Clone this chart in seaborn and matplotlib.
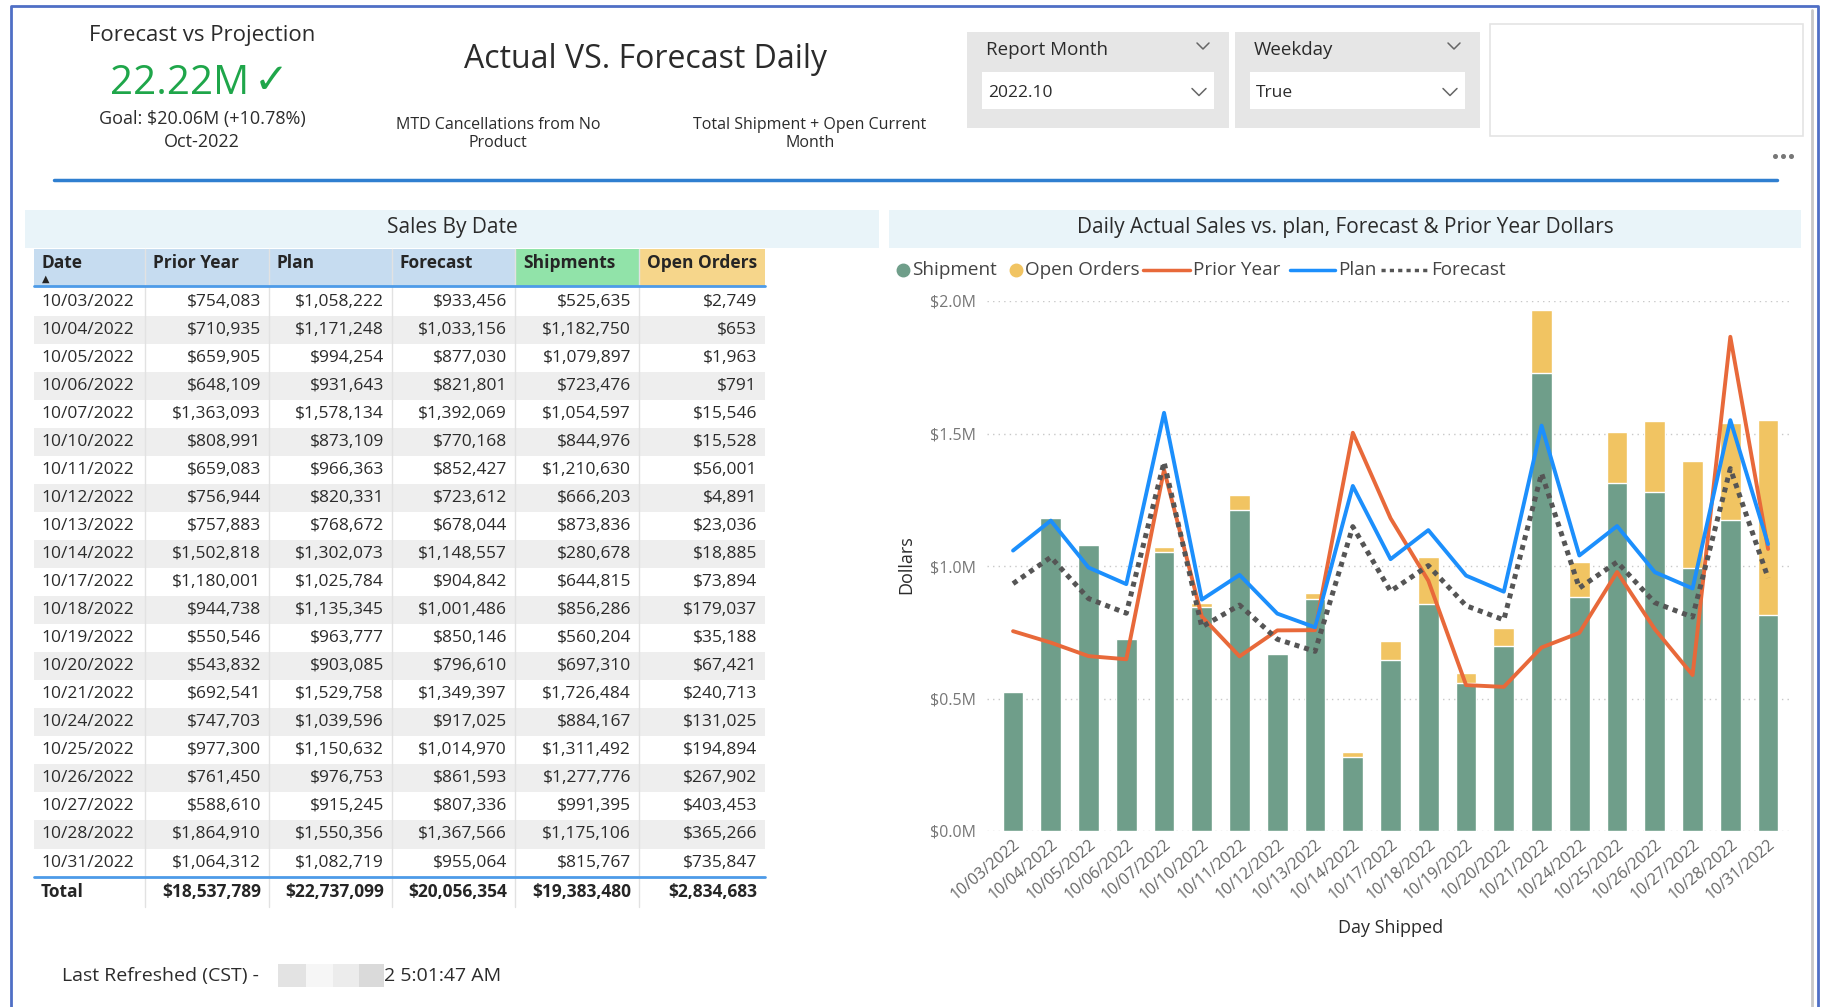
import numpy as np
import matplotlib
matplotlib.use("Agg")
import matplotlib.pyplot as plt
from matplotlib.patches import Rectangle
from matplotlib.transforms import ScaledTranslation
import seaborn as sns

dates = ['10/03/2022', '10/04/2022', '10/05/2022', '10/06/2022', '10/07/2022',
         '10/10/2022', '10/11/2022', '10/12/2022', '10/13/2022', '10/14/2022',
         '10/17/2022', '10/18/2022', '10/19/2022', '10/20/2022', '10/21/2022',
         '10/24/2022', '10/25/2022', '10/26/2022', '10/27/2022', '10/28/2022',
         '10/31/2022']
prior_year = [754083, 710935, 659905, 648109, 1363093, 808991, 659083, 756944,
              757883, 1502818, 1180001, 944738, 550546, 543832, 692541, 747703,
              977300, 761450, 588610, 1864910, 1064312]
plan = [1058222, 1171248, 994254, 931643, 1578134, 873109, 966363, 820331,
        768672, 1302073, 1025784, 1135345, 963777, 903085, 1529758, 1039596,
        1150632, 976753, 915245, 1550356, 1082719]
forecast = [933456, 1033156, 877030, 821801, 1392069, 770168, 852427, 723612,
            678044, 1148557, 904842, 1001486, 850146, 796610, 1349397, 917025,
            1014970, 861593, 807336, 1367566, 955064]
shipments = [525635, 1182750, 1079897, 723476, 1054597, 844976, 1210630, 666203,
             873836, 280678, 644815, 856286, 560204, 697310, 1726484, 884167,
             1311492, 1277776, 991395, 1175106, 815767]
open_orders = [2749, 653, 1963, 791, 15546, 15528, 56001, 4891, 23036, 18885,
               73894, 179037, 35188, 67421, 240713, 131025, 194894, 267902,
               403453, 365266, 735847]
totals = [18537789, 22737099, 20056354, 19383480, 2834683]
table_cols = ['Date', 'Prior Year', 'Plan', 'Forecast', 'Shipments', 'Open Orders']
y_ticks = [0, 500000, 1000000, 1500000, 2000000]

GREEN = '#6f9e8a'
YELLOW = '#f1c462'
ORANGE = '#e8693a'
BLUE = '#1c8ffc'
GRAY = '#555555'

sns.set_theme(style='white')
plt.rcParams['font.family'] = ['Open Sans', 'DejaVu Sans']

W, H = 1825, 1007
fig = plt.figure(figsize=(W / 100, H / 100), dpi=100)
fig.patch.set_facecolor('white')

# background axes in pixel coordinates for the dashboard furniture
bg = fig.add_axes([0, 0, 1, 1])
bg.set_xlim(0, W)
bg.set_ylim(H, 0)
bg.axis('off')

TXT = '#2b2b2b'

# outer frame
bg.plot([11, 11, 1818, 1818], [H, 6, 6, H], color='#4f6fc5', lw=2)
bg.plot([1812, 1812], [10, H], color='#c8c8c8', lw=2)

# header texts
bg.text(202, 35, 'Forecast vs Projection', ha='center', va='center', fontsize=16, color=TXT)
bg.text(180, 84, '22.22M', ha='center', va='center', fontsize=29, color='#1fa64a')
bg.text(271, 81, '\u2713', ha='center', va='center', fontsize=30, color='#1fa64a',
        family=['DejaVu Sans'], fontweight='bold')
bg.text(202, 119, 'Goal: $20.06M (+10.78%)', ha='center', va='center', fontsize=13, color=TXT)
bg.text(202, 142, 'Oct-2022', ha='center', va='center', fontsize=13, color=TXT)
bg.text(646, 60, 'Actual VS. Forecast Daily', ha='center', va='center', fontsize=23, color=TXT)
bg.text(498, 134, 'MTD Cancellations from No\nProduct', ha='center', va='center',
        fontsize=11.5, color=TXT, linespacing=1.2)
bg.text(810, 134, 'Total Shipment + Open Current\nMonth', ha='center', va='center',
        fontsize=11.5, color=TXT, linespacing=1.2)


def chevron(x, y, s=7):
    bg.plot([x - s, x, x + s], [y - s / 2, y + s / 2, y - s / 2], color='#666666', lw=1.1)


# slicers
for (x0, x1, title, val) in [(967, 1229, 'Report Month', '2022.10'), (1235, 1480, 'Weekday', 'True')]:
    bg.add_patch(Rectangle((x0, 32), x1 - x0, 96, color='#e6e6e6', lw=0))
    bg.add_patch(Rectangle((x0 + 15, 72), x1 - x0 - 30, 37, color='white', lw=0))
    bg.text(x0 + 19, 50, title, ha='left', va='center', fontsize=13.5, color=TXT)
    bg.text(x0 + 21, 93, val, ha='left', va='center', fontsize=12.5, color=TXT)
    chevron(x1 - 26, 46, 6)
    chevron(x1 - 30, 92, 7)

bg.add_patch(Rectangle((1490, 24), 313, 112, fill=False, edgecolor='#e4e4e4', lw=1.2))
bg.plot([1775, 1783, 1791], [156, 156, 156], ls='', marker='o', ms=2.6, color='#777777')
bg.plot([54, 1777], [180, 180], color='#2f7fd0', lw=2.5)

# ---- table: Sales By Date ----
bg.add_patch(Rectangle((25, 210), 854, 38, color='#e9f4f9', lw=0))
bg.text(452, 228, 'Sales By Date', ha='center', va='center', fontsize=15, color=TXT)

col_x = [34, 145, 269, 392, 515, 639, 765]
hdr_colors = ['#c6dcf0', '#c6dcf0', '#c6dcf0', '#c6dcf0', '#91e3a9', '#f6d68b']
for j, name in enumerate(table_cols):
    bg.add_patch(Rectangle((col_x[j], 249), col_x[j + 1] - col_x[j], 37, color=hdr_colors[j], lw=0))
    bg.text(col_x[j] + 8, 263, name, ha='left', va='center', fontsize=12.5,
            fontweight='bold', color='#252525')
bg.text(col_x[0] + 12, 279, '\u25b2', ha='center', va='center', fontsize=7,
        color='#252525', family=['DejaVu Sans'])

row_h = 28.05
row0 = 287.5
series = [prior_year, plan, forecast, shipments, open_orders]
for i, d in enumerate(dates):
    top = row0 + i * row_h
    if i % 2 == 1:
        bg.add_patch(Rectangle((col_x[0], top), col_x[-1] - col_x[0], row_h, color='#eeeeee', lw=0))
    yc = top + row_h / 2
    bg.text(col_x[0] + 7, yc, d, ha='left', va='center', fontsize=12.5, color=TXT)
    for j, s in enumerate(series):
        bg.text(col_x[j + 2] - 8, yc, f'${s[i]:,}', ha='right', va='center', fontsize=12.5, color=TXT)

tot_top = row0 + len(dates) * row_h
tot_c = tot_top + row_h / 2 + 1
bg.text(col_x[0] + 7, tot_c, 'Total', ha='left', va='center', fontsize=12.5, fontweight='bold', color='#252525')
for j, v in enumerate(totals):
    bg.text(col_x[j + 2] - 8, tot_c, f'${v:,}', ha='right', va='center', fontsize=12.5,
            fontweight='bold', color='#252525')
for x in col_x[1:-1]:
    bg.plot([x, x], [249, tot_top + row_h + 2], color='#e2e2e2', lw=1)
bg.plot([col_x[0], col_x[-1]], [286, 286], color='#4d9be8', lw=2)
bg.plot([col_x[0], col_x[-1]], [tot_top, tot_top], color='#4d9be8', lw=2)

# ---- chart: Daily Actual Sales ----
bg.add_patch(Rectangle((889, 210), 912, 38, color='#e9f4f9', lw=0))
bg.text(1345, 228, 'Daily Actual Sales vs. plan, Forecast & Prior Year Dollars',
        ha='center', va='center', fontsize=15, color=TXT)

# legend
leg_y = 270
LFS = 13.6
bg.plot([903], [leg_y], marker='o', ms=9, color=GREEN, ls='')
bg.text(912, leg_y, 'Shipment', ha='left', va='center', fontsize=LFS, color='#444444')
bg.plot([1016], [leg_y], marker='o', ms=9, color=YELLOW, ls='')
bg.text(1025, leg_y, 'Open Orders', ha='left', va='center', fontsize=LFS, color='#444444')
bg.plot([1143, 1190], [leg_y, leg_y], color=ORANGE, lw=2.5)
bg.text(1193, leg_y, 'Prior Year', ha='left', va='center', fontsize=LFS, color='#444444')
bg.plot([1290, 1335], [leg_y, leg_y], color=BLUE, lw=2.5)
bg.text(1338, leg_y, 'Plan', ha='left', va='center', fontsize=LFS, color='#444444')
bg.plot([1381, 1428], [leg_y, leg_y], color=GRAY, lw=2.5, ls=(0, (1.2, 1.2)))
bg.text(1431, leg_y, 'Forecast', ha='left', va='center', fontsize=LFS, color='#444444')

ax_l, ax_r, ax_t, ax_b = 987, 1793, 301, 831
ax = fig.add_axes([ax_l / W, 1 - ax_b / H, (ax_r - ax_l) / W, (ax_b - ax_t) / H])
ax.set_facecolor('none')

pos = np.arange(len(dates))
stack_top = np.array(shipments) + np.array(open_orders)
sns.barplot(x=dates, y=stack_top, color=YELLOW, saturation=1, width=0.55, ax=ax)
sns.barplot(x=dates, y=shipments, color=GREEN, saturation=1, width=0.55, ax=ax)
sns.lineplot(x=pos, y=prior_year, color=ORANGE, lw=2.8, ax=ax)
sns.lineplot(x=pos, y=plan, color=BLUE, lw=2.8, ax=ax)
sns.lineplot(x=pos, y=forecast, color=GRAY, lw=3.6, linestyle=(0, (1, 1)), ax=ax)

ax.set_xlim(-0.69, len(dates) - 1 + 0.66)
ax.set_ylim(0, 2000000)
ax.set_yticks(y_ticks)
ax.set_yticklabels([f'${v / 1e6:.1f}M' for v in y_ticks], color='#777777', fontsize=11.5)
ax.set_xticks(pos)
ax.set_xticklabels(dates, rotation=40, ha='right', rotation_mode='anchor',
                   color='#666666', fontsize=11.5)
shift = ScaledTranslation(-0.2, 0, fig.dpi_scale_trans)
for lab in ax.get_xticklabels():
    lab.set_transform(lab.get_transform() + shift)
ax.tick_params(axis='both', length=0)
ax.tick_params(axis='x', pad=4)
ax.tick_params(axis='y', pad=8)
for v in y_ticks:
    ax.axhline(v, color='#c8c8c8', lw=1, ls=(0, (1, 3)), zorder=0)
sns.despine(ax=ax, left=True, bottom=True)
ax.set_xlabel('')
ax.set_ylabel('')
ax.grid(False)

bg.text(1391, 928, 'Day Shipped', ha='center', va='center', fontsize=13, color=TXT)
bg.text(906, 565, 'Dollars', ha='center', va='center', rotation=90, fontsize=13, color=TXT)

# footer
bg.text(62, 976, 'Last Refreshed (CST) -', ha='left', va='center', fontsize=14, color=TXT)
for (x0, x1, c) in [(278, 306, '#e3e3e3'), (306, 333, '#f6f6f6'), (333, 359, '#ececec'), (359, 384, '#dadada')]:
    bg.add_patch(Rectangle((x0, 964), x1 - x0, 23, color=c, lw=0))
bg.text(384, 976, '2 5:01:47 AM', ha='left', va='center', fontsize=14, color=TXT)

fig.savefig('out.png', dpi=100)
